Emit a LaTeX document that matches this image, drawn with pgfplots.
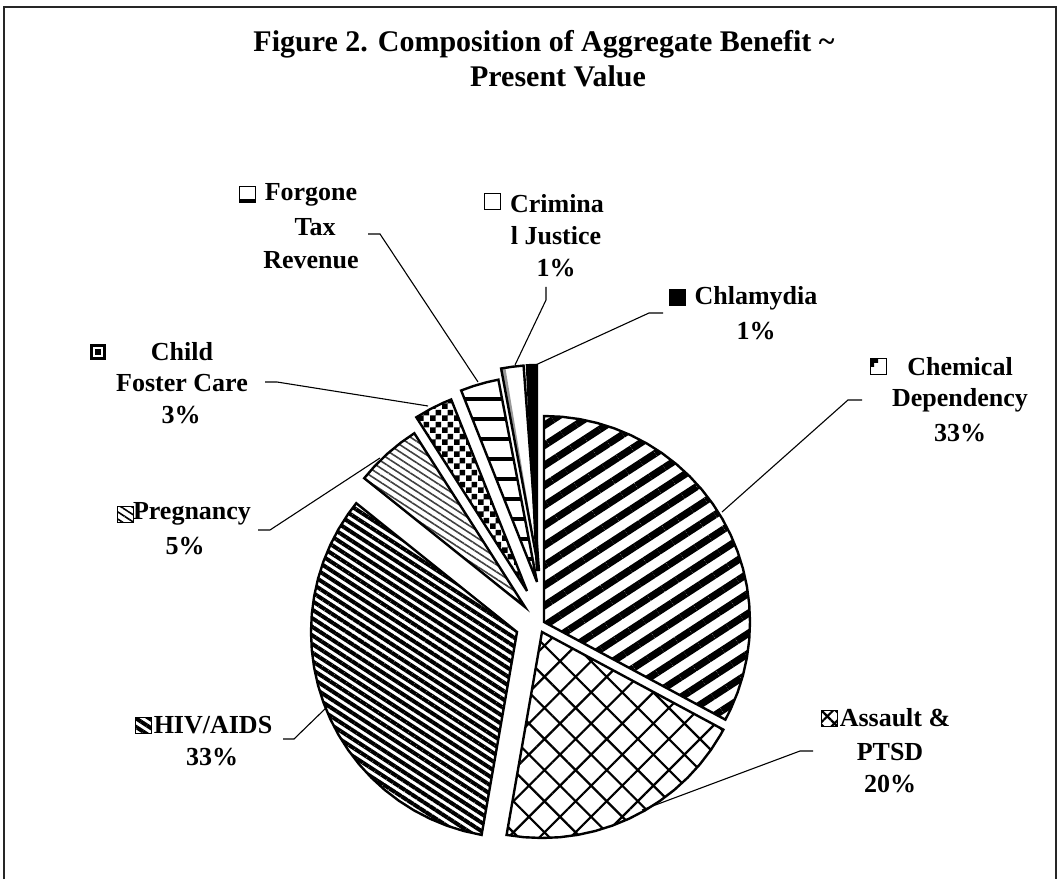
\documentclass[border=0pt]{standalone}
\usepackage{fontspec}
\setmainfont{Liberation Serif}
\usepackage{pgfplots}
\pgfplotsset{compat=1.18}
\usetikzlibrary{patterns,patterns.meta}
\pgfdeclarepatternformonly{bigchecker}{\pgfpointorigin}{\pgfqpoint{5.8pt}{5.8pt}}{\pgfqpoint{5.8pt}{5.8pt}}{%
 \pgfpathrectangle{\pgfpointorigin}{\pgfqpoint{2.9pt}{2.9pt}}%
 \pgfpathrectangle{\pgfqpoint{2.9pt}{2.9pt}}{\pgfqpoint{2.9pt}{2.9pt}}%
 \pgfusepath{fill}}
\pgfplotsset{slice/.style={data cs=polar, draw=black, line width=1.2pt},
  leader/.style={black, line width=0.55pt}}
\tikzset{lbl/.style={font=\bfseries\fontsize{13}{15}\selectfont, inner sep=0pt, anchor=center},
  key/.style={draw=black, line width=0.5pt}}
\begin{document}
\begin{tikzpicture}
\begin{axis}[scale only axis, width=530pt, height=439.5pt,
  xmin=-540, xmax=520, ymin=-257, ymax=622,
  hide axis, clip=false, no marks]
% Chemical Dependency 33%
\addplot[slice, pattern={Lines[angle=33,distance=8.4pt,line width=3.6pt]}, xshift=2pt, yshift=0pt]
 coordinates {(0,0) (90,206) (85,206) (80,206) (75,206) (70,206) (65,206) (60,206) (55,206) (50,206) (45,206) (40,206) (35,206) (30,206) (25,206) (20,206) (15,206) (10,206) (5,206) (0,206) (-5,206) (-10,206) (-15,206) (-20,206) (-25,206) (-28.3,206)} -- cycle;
% Assault & PTSD 20%
\addplot[slice, pattern={Hatch[angle=45,distance=11pt,line width=1.1pt]}, xshift=1pt, yshift=-5pt]
 coordinates {(0,0) (-28.3,206) (-30,206) (-35,206) (-40,206) (-45,206) (-50,206) (-55,206) (-60,206) (-65,206) (-70,206) (-75,206) (-80,206) (-85,206) (-90,206) (-95,206) (-99.9,206)} -- cycle;
% HIV/AIDS 33%
\addplot[slice, pattern={Lines[angle=-33,distance=3.6pt,line width=2pt]}, xshift=-11.5pt, yshift=-5pt]
 coordinates {(0,0) (-99.9,206) (-105,206) (-110,206) (-115,206) (-120,206) (-125,206) (-130,206) (-135,206) (-140,206) (-145,206) (-150,206) (-155,206) (-160,206) (-165,206) (-170,206) (-175,206) (-180,206) (-185,206) (-190,206) (-195,206) (-200,206) (-205,206) (-210,206) (-215,206) (-218.7,206)} -- cycle;
% Pregnancy 5%
\addplot[slice, pattern={Lines[angle=-33,distance=3pt,line width=0.8pt]}, pattern color=black!75, xshift=-7.5pt, yshift=7.5pt]
 coordinates {(0,0) (141.3,206) (137,206) (132,206) (127,206) (122.5,206)} -- cycle;
% Child Foster Care 3%
\addplot[slice, pattern=bigchecker, xshift=-6.5pt, yshift=15.5pt]
 coordinates {(0,0) (122.5,206) (118,206) (114,206) (111.6,206)} -- cycle;
% Forgone Tax Revenue 3%
\addplot[slice, pattern={Lines[angle=0,distance=10pt,line width=1.7pt]}, xshift=-1.5pt, yshift=20pt]
 coordinates {(0,0) (111.6,206) (108,206) (104,206) (100.8,206)} -- cycle;
% Criminal Justice 1%
\addplot[data cs=polar, draw=none, fill=gray!80, xshift=-0.5pt, yshift=25.5pt]
 coordinates {(0,0) (100.6,206) (99.4,206)} -- cycle;
\addplot[slice, fill=none, xshift=-0.5pt, yshift=25.5pt]
 coordinates {(0,0) (100.6,206) (97.5,206) (94.3,206)} -- cycle;
% Chlamydia 1%
\addplot[slice, fill=black, xshift=-1.5pt, yshift=25.5pt]
 coordinates {(0,0) (92.8,206) (90,206)} -- cycle;
% leader lines
\addplot[leader] coordinates {(-172,388) (-160,388) (-62,240)};
\addplot[leader] coordinates {(6,335) (6,322) (-25,257)};
\addplot[leader] coordinates {(123,309) (109,309) (-11,254)};
\addplot[leader] coordinates {(322,222) (308,222) (182,110)};
\addplot[leader] coordinates {(-275,240) (-263,240) (-112,216)};
\addplot[leader] coordinates {(-282,92) (-270,92) (-160,164)};
\addplot[leader] coordinates {(-257,-117) (-246,-117) (-213,-85)};
\addplot[leader] coordinates {(273,-129) (260,-129) (102,-188)};
% title
\node[font=\bfseries\fontsize{15}{18}\selectfont, inner sep=0pt] at (axis cs:4,578) {Figure 2. Composition of Aggregate Benefit \textasciitilde};
\node[font=\bfseries\fontsize{15}{18}\selectfont, inner sep=0pt] at (axis cs:18,546) {Present Value};
% labels
\node[lbl] at (axis cs:-229,427) {Forgone};
\node[lbl] at (axis cs:-225,395) {Tax};
\node[lbl] at (axis cs:-229,362) {Revenue};
\node[lbl] at (axis cs:17,418) {Crimina};
\node[lbl] at (axis cs:16,386) {l Justice};
\node[lbl] at (axis cs:16,354) {1\%};
\node[lbl] at (axis cs:216,324) {Chlamydia};
\node[lbl] at (axis cs:216,291) {1\%};
\node[lbl] at (axis cs:420,255) {Chemical};
\node[lbl] at (axis cs:420,222) {Dependency};
\node[lbl] at (axis cs:420,189) {33\%};
\node[lbl] at (axis cs:-358,270) {Child};
\node[lbl] at (axis cs:-358,239) {Foster Care};
\node[lbl] at (axis cs:-359,207) {3\%};
\node[lbl] at (axis cs:-348,108) {Pregnancy};
\node[lbl] at (axis cs:-355,76) {5\%};
\node[lbl] at (axis cs:-327,-103) {HIV/AIDS};
\node[lbl] at (axis cs:-328,-135) {33\%};
\node[lbl] at (axis cs:355,-96) {Assault \&};
\node[lbl] at (axis cs:350,-130) {PTSD};
\node[lbl] at (axis cs:350,-162) {20\%};
% legend keys
\draw[key] (axis cs:-301,419) rectangle (axis cs:-285,435);
\fill[black] (axis cs:-301,419) rectangle (axis cs:-285,423);
\draw[key] (axis cs:-56,412) rectangle (axis cs:-40,428);
\draw[key, fill=black] (axis cs:129,316) rectangle (axis cs:145,332);
\draw[key] (axis cs:330,247) rectangle (axis cs:346,263);
\fill[black] (axis cs:330,263) -- (axis cs:338,263) -- (axis cs:338,259) -- (axis cs:334,259) -- (axis cs:334,255) -- (axis cs:330,255) -- cycle;
\fill[black] (axis cs:-450,262) rectangle (axis cs:-434,278);
\fill[white] (axis cs:-447,265) rectangle (axis cs:-437,275);
\fill[black] (axis cs:-445,267) rectangle (axis cs:-439,273);
\draw[key, pattern={Lines[angle=-33,distance=3pt,line width=0.8pt]}] (axis cs:-423,100) rectangle (axis cs:-407,116);
\draw[key, pattern={Lines[angle=-33,distance=3.6pt,line width=2pt]}] (axis cs:-405,-111) rectangle (axis cs:-389,-95);
\draw[key, pattern={Hatch[angle=45,distance=5pt,line width=1.1pt]}] (axis cs:281,-104) rectangle (axis cs:297,-88);
% frame
\draw[black!85, line width=0.8pt] (axis cs:-536,-257) -- (axis cs:-536,615) -- (axis cs:516,615) -- (axis cs:516,-257);
\end{axis}
\pgfresetboundingbox
\useasboundingbox (0,0) rectangle (530pt,439.5pt);
\end{tikzpicture}
\end{document}
